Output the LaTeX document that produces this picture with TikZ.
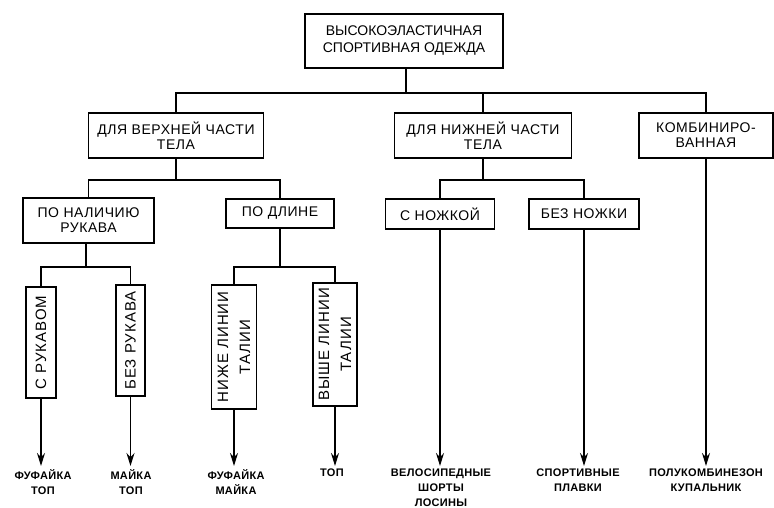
\documentclass[tikz,border=0pt]{standalone}
\usepackage{fontspec}
\setmainfont{Liberation Sans}
\newfontfamily\boxfont[LetterSpace=4]{Liberation Sans}
\newfontfamily\rotfont[LetterSpace=7]{Liberation Sans}
\newfontfamily\leaffont[LetterSpace=3]{Liberation Sans Bold}
\newcommand\caps[1]{\MakeUppercase{#1}}
\usetikzlibrary{arrows.meta}
\begin{document}
\begin{tikzpicture}[x=1pt,y=-1pt,
  box/.style={draw,line width=1.6pt,inner sep=0pt,align=center,font=\boxfont\fontsize{14}{15}\selectfont},
  vbox/.style={box,rotate=90,font=\rotfont\fontsize{15}{22}\selectfont},
  leaf/.style={anchor=north,align=center,inner sep=0pt,font=\leaffont\fontsize{11}{15}\selectfont},
  conn/.style={line width=1.5pt},
  arr/.style={line width=1.5pt,shorten >=3pt,-{Stealth[length=13pt,width=8pt]}}]
\useasboundingbox (0,0) rectangle (774,508);
% level 0
\node[box,minimum width=198pt,minimum height=54pt,font=\fontsize{14}{17}\selectfont] (root) at (404,41) {\caps{ВЫСОКОЭЛАСТИЧНАЯ}\\\caps{СПОРТИВНАЯ ОДЕЖДА}};
% level 1
\node[box,minimum width=175pt,minimum height=45pt] (up) at (176,135.5) {\caps{ДЛЯ ВЕРХНЕЙ ЧАСТИ}\\\caps{ТЕЛА}};
\node[box,minimum width=177pt,minimum height=45pt] (low) at (483,135.5) {\caps{ДЛЯ НИЖНЕЙ ЧАСТИ}\\\caps{ТЕЛА}};
\node[box,minimum width=134pt,minimum height=45pt] (comb) at (706,135.5) {\caps{КОМБИНИРО-}\\\caps{ВАННАЯ}};
% level 2
\node[box,minimum width=131pt,minimum height=45pt] (nal) at (88.5,220.5) {\caps{ПО НАЛИЧИЮ}\\\caps{РУКАВА}};
\node[box,minimum width=108pt,minimum height=29pt] (dl) at (280,213.5) {\caps{ПО ДЛИНЕ}};
\node[box,minimum width=109pt,minimum height=30pt] (sn) at (440,214) {\caps{С НОЖКОЙ}};
\node[box,minimum width=110pt,minimum height=30pt] (bn) at (584,214) {\caps{БЕЗ НОЖКИ}};
% level 3 (rotated)
\node[vbox,minimum height=30pt,minimum width=111pt] (sr) at (41,342.5) {\caps{С РУКАВОМ}};
\node[vbox,minimum height=29pt,minimum width=111pt] (br) at (130.5,340.5) {\caps{БЕЗ РУКАВА}};
\node[vbox,minimum height=45pt,minimum width=124pt] (nl) at (234,347) {\caps{НИЖЕ ЛИНИИ}\\\caps{ТАЛИИ}};
\node[vbox,minimum height=44pt,minimum width=123pt] (vl) at (335,344.5) {\caps{ВЫШЕ ЛИНИИ}\\\caps{ТАЛИИ}};
% leaves
\node[leaf] (l1) at (43,469) {\caps{ФУФАЙКА}\\\caps{ТОП}};
\node[leaf] (l2) at (131,469) {\caps{МАЙКА}\\\caps{ТОП}};
\node[leaf] (l3) at (236,469) {\caps{ФУФАЙКА}\\\caps{МАЙКА}};
\node[leaf] (l4) at (332,469) {\caps{ТОП}};
\node[leaf] (l5) at (441,469) {\caps{ВЕЛОСИПЕДНЫЕ}\\\caps{ШОРТЫ}\\\caps{ЛОСИНЫ}};
\node[leaf] (l6) at (578,469) {\caps{СПОРТИВНЫЕ}\\\caps{ПЛАВКИ}};
\node[leaf] (l7) at (706,469) {\caps{ПОЛУКОМБИНЕЗОН}\\\caps{КУПАЛЬНИК}};
% junction coordinates
\coordinate (j0) at (406,93);
\coordinate (j1) at (176,180);
\coordinate (j2) at (483,180);
\coordinate (j3) at (86,267);
\coordinate (j4) at (280,267);
% connectors
\draw[conn] (root.south -| j0) -- (j0);
\draw[conn] (up.north) -- (up.north |- j0) -- (comb.north |- j0) -- (comb.north);
\draw[conn] (low.north) -- (low.north |- j0);
\draw[conn] (up.south) -- (j1);
\draw[conn] (nal.north) -- (nal.north |- j1) -- (dl.north |- j1) -- (dl.north);
\draw[conn] (low.south) -- (j2);
\draw[conn] (sn.north) -- (sn.north |- j2) -- (bn.north |- j2) -- (bn.north);
\draw[conn] (nal.south -| j3) -- (j3);
\draw[conn] (sr.east) -- (sr.east |- j3) -- (br.east |- j3) -- (br.east);
\draw[conn] (dl.south) -- (j4);
\draw[conn] (nl.east) -- (nl.east |- j4) -- (vl.east |- j4) -- (vl.east);
% arrows
\draw[arr] (sr.west) -- (sr.west |- l1.north);
\draw[arr] (br.west) -- (br.west |- l2.north);
\draw[arr] (nl.west) -- (nl.west |- l3.north);
\draw[arr] (vl.west) -- (vl.west |- l4.north);
\draw[arr] (sn.south) -- (sn.south |- l5.north);
\draw[arr] (bn.south) -- (bn.south |- l6.north);
\draw[arr] (comb.south) -- (comb.south |- l7.north);
\end{tikzpicture}
\end{document}
